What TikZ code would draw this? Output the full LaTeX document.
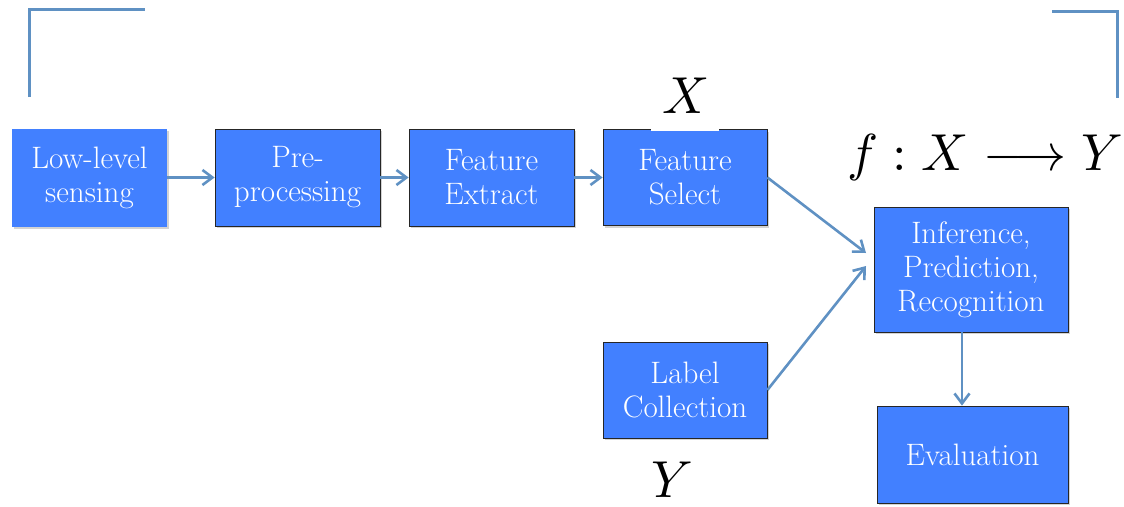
\documentclass[tikz,border=0pt]{standalone}
\usepackage{fontspec}
\usetikzlibrary{arrows.meta,shadows}
\definecolor{boxblue}{RGB}{66,128,255}
\definecolor{linkblue}{RGB}{95,145,195}
\begin{document}
\begin{tikzpicture}[x=1pt,y=-1pt,
  box/.style={fill=boxblue, draw=black!85, line width=0.8pt, text=white,
    align=center, inner sep=0pt, font=\fontsize{31}{34}\selectfont,
    drop shadow={shadow xshift=1.5pt, shadow yshift=-2pt, opacity=0.35}},
  link/.style={draw=linkblue, line width=2.6pt, -{Straight Barb[length=10pt,width=15pt]}},
  corner/.style={draw=linkblue, line width=3pt},
  bigmath/.style={scale=5.2, inner sep=0pt}]
\useasboundingbox (0,0) rectangle (1124,506);
% corners
\coordinate (c1a) at (29,97);
\coordinate (c1b) at (29,9);
\coordinate (c1c) at (145,9);
\draw[corner] (c1a) -- (c1b) -- (c1c);
\coordinate (c2a) at (1052,11);
\coordinate (c2b) at (1117,11);
\coordinate (c2c) at (1117,98);
\draw[corner] (c2a) -- (c2b) -- (c2c);
% boxes
\node[box, draw=none, minimum width=155pt, minimum height=98pt] (low) at (89.5,177.5) {Low-level\\sensing};
\node[box, minimum width=165pt, minimum height=97pt] (pre) at (297.5,177.5) {Pre-\\processing};
\node[box, minimum width=165pt, minimum height=97pt] (fext) at (491.5,177.5) {Feature\\Extract};
\node[box, minimum width=164pt, minimum height=96pt] (fsel) at (685,177.5) {Feature\\Select};
\node[box, minimum width=194pt, minimum height=125pt] (inf) at (971,269.5) {Inference,\\Prediction,\\Recognition};
\node[box, minimum width=191pt, minimum height=97pt] (eval) at (972.5,454.5) {Evaluation};
\node[box, minimum width=164pt, minimum height=96pt] (lab) at (685,390) {Label\\Collection};
% white patch and labels
\node[fill=white, minimum width=68pt, minimum height=4pt, inner sep=0pt] (patch) at (685,129) {};
\node[bigmath] (xl) at (686,96) {$X$};
\node[bigmath] (yl) at (672,480) {$Y$};
\node[bigmath] (fmap) at (985,157) {$f: X \longrightarrow Y$};
% connectors
\draw[link] (low.east) -- (pre.west);
\draw[link] (pre.east) -- (fext.west);
\draw[link] (fext.east) -- (fsel.west);
\coordinate (t1) at (866,253);
\coordinate (t2) at (866,266);
\draw[link] (fsel.east) -- (t1);
\draw[link] (lab.east) -- (t2);
\draw[link] (inf.south -| 962,0) -- (eval.north -| 962,0);
\end{tikzpicture}
\end{document}
